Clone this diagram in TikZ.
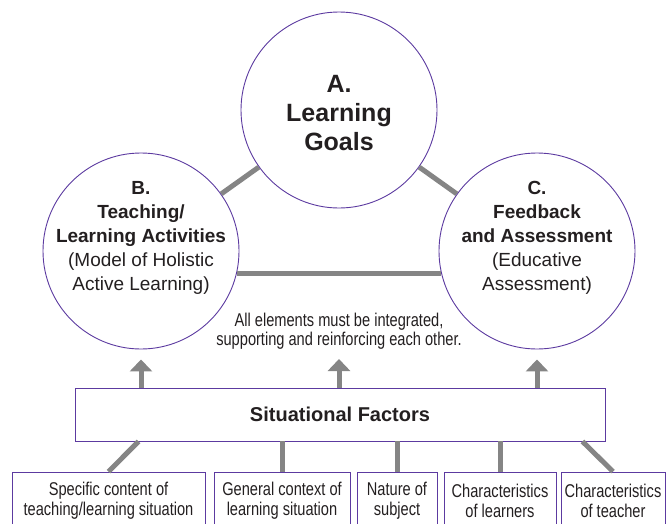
\documentclass[tikz,border=0pt]{standalone}
\usepackage{fontspec}
\setmainfont{Liberation Sans}
\newfontfamily\narrowfont[FakeStretch=0.79]{Liberation Sans}
\usetikzlibrary{arrows.meta}
\definecolor{goalpurple}{RGB}{92,58,160}
\definecolor{linkgray}{RGB}{133,133,133}
\definecolor{inkdark}{RGB}{35,31,32}

\begin{document}
\begin{tikzpicture}
  [x=1pt,y=-1pt,every node/.style={text=inkdark,align=center,inner sep=0pt}]

  \tikzstyle{goal} = [draw=goalpurple,line width=0.9pt,circle,minimum size=196pt]
  \tikzstyle{factor} = [draw=goalpurple,line width=0.9pt,rectangle,font=\narrowfont\fontsize{18.5}{20}\selectfont]
  \tikzstyle{link} = [linkgray,line width=5pt]
  \tikzstyle{push} = [linkgray,line width=5pt,-{Triangle[width=22pt,length=12pt]},shorten >=10pt]

  \useasboundingbox (0,0) rectangle (670,523);

  \node[goal] (A) at (339,110) {};
  \node[goal] (B) at (141,251) {};
  \node[goal] (C) at (537,251) {};

  \node[font=\bfseries\fontsize{25}{29}\selectfont] (Atext) at (339,113)
    {A.\\Learning\\Goals};
  \node[font=\fontsize{19}{24}\selectfont] (Btext) at (141,238)
    {\textbf{B.}\\\textbf{Teaching/}\\\textbf{Learning Activities}\\(Model of Holistic\\Active Learning)};
  \node[font=\fontsize{19}{24}\selectfont] (Ctext) at (537,238)
    {\textbf{C.}\\\textbf{Feedback}\\\textbf{and Assessment}\\(Educative\\Assessment)};

  \node[font=\narrowfont\fontsize{18.5}{19}\selectfont] (note) at (339,331)
    {All elements must be integrated,\\supporting and reinforcing each other.};
  \coordinate (noteend) at (339,349);

  \node[factor,minimum width=530pt,minimum height=53pt,font=\bfseries\fontsize{20}{24}\selectfont] (sf) at (340,414.5) {Situational Factors};

  \node[factor,minimum width=193pt,minimum height=58pt] (f1) at (108.5,501) {Specific content of\\teaching/learning situation};
  \node[factor,minimum width=136pt,minimum height=58pt] (f2) at (282,501) {General context of\\learning situation};
  \node[factor,minimum width=80pt,minimum height=58pt] (f3) at (397,501) {Nature of\\subject};
  \node[factor,minimum width=112pt,minimum height=58pt] (f4) at (500,501) {Characteristics\\of learners};
  \node[factor,minimum width=104pt,minimum height=58pt] (f5) at (613,501) {Characteristics\\of teacher};

  \path[link]
        (A) edge (B)
        (A) edge (C)
        (B.-13) edge (C.193);

  \path[push]
        (sf.north -| B) edge (B.south)
        (sf.north -| A) edge (noteend)
        (sf.north -| C) edge (C.south);

  \path[link]
        ([xshift=64pt]sf.south west) edge (f1.north)
        (sf.south -| f2) edge (f2)
        (sf.south -| f3) edge (f3)
        (sf.south -| f4) edge (f4)
        ([xshift=-23pt]sf.south east) edge (f5.north);
\end{tikzpicture}
\end{document}
